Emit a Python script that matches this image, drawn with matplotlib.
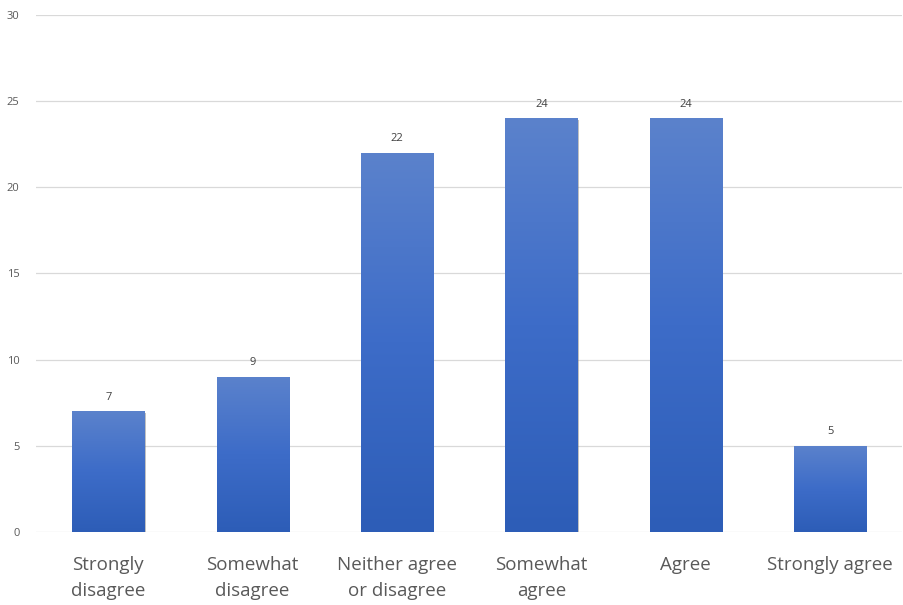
import numpy as np
import matplotlib.pyplot as plt
import matplotlib.patheffects as pe
from matplotlib.colors import LinearSegmentedColormap

categories = ['Strongly\ndisagree', 'Somewhat\ndisagree', 'Neither agree\nor disagree',
              'Somewhat\nagree', 'Agree', 'Strongly agree']
counts = [7, 9, 22, 24, 24, 5]
yticks = [0, 5, 10, 15, 20, 25, 30]

plt.rcParams['font.family'] = ['Open Sans', 'DejaVu Sans']

fig = plt.figure(figsize=(9.04, 6.05), dpi=100)
ax = fig.add_axes([0.040, 0.1207, 0.958, 0.8545])

x = np.arange(len(categories))
bars = ax.bar(x, counts, width=0.5, color='#4472C4', zorder=2,
              path_effects=[pe.SimplePatchShadow(offset=(1, -1), shadow_rgbFace='#777777', alpha=0.45),
                            pe.Normal()])

# vertical gradient, lighter on top
grad_cmap = LinearSegmentedColormap.from_list('g', ['#2D5DB7', '#3D6CC8', '#5B82CC'])
grad = np.linspace(0, 1, 256).reshape(-1, 1)
for b, v in zip(bars, counts):
    im = ax.imshow(grad, cmap=grad_cmap, origin='lower', aspect='auto',
                   extent=(b.get_x(), b.get_x() + b.get_width(), 0, v), zorder=3)
    im.set_clip_path(b)
    ax.text(b.get_x() + b.get_width() / 2, v + 0.5, str(v), ha='center', va='bottom',
            fontsize=8, color='#404040', zorder=4)

ax.set_xlim(-0.5, len(categories) - 0.5)
ax.set_ylim(0, 30)
ax.set_yticks(yticks)
ax.set_xticks(x)
ax.set_xticklabels(categories, fontsize=13.5, color='#595959', linespacing=1.6)
ax.tick_params(axis='y', labelsize=8, labelcolor='#595959', length=0, pad=12)
ax.tick_params(axis='x', length=0, pad=17)
ax.grid(axis='y', color='#D9D9D9', linewidth=0.9, zorder=0)
for s in ax.spines.values():
    s.set_visible(False)

fig.savefig('out.png', dpi=100)
